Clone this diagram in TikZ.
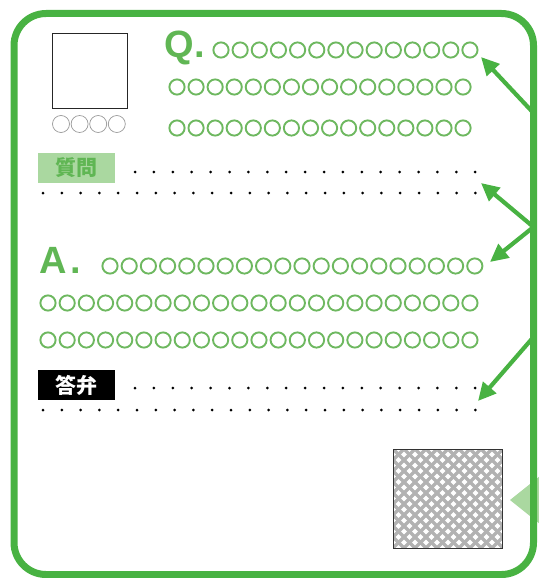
\documentclass[tikz,border=0pt]{standalone}
\usepackage{fontspec}
\usepackage{tikz}
\usetikzlibrary{arrows.meta, positioning}
\newfontfamily\cjkfont{Noto Sans CJK JP}
\newfontfamily\latfont{Liberation Sans}
\definecolor{framegreen}{RGB}{72, 178, 66}
\definecolor{ringgreen}{RGB}{110, 184, 96}
\definecolor{lettergreen}{RGB}{96, 182, 84}
\definecolor{palegreen}{RGB}{170, 216, 160}
\definecolor{hatchgray}{RGB}{178, 178, 178}

\begin{document}
\begin{tikzpicture}[x=1pt, y=-1pt,
			frame/.style={draw=framegreen, line width=7pt, rounded corners=32pt},
			ring/.style={draw=ringgreen, line width=1.9pt},
			smallring/.style={draw=gray!80, line width=0.7pt},
			dotmark/.style={fill=black},
			tag/.style={rectangle, minimum width=77pt, minimum height=30pt, inner sep=0pt, font=\cjkfont\bfseries\fontsize{21}{21}\selectfont},
			bigletter/.style={inner sep=0pt, anchor=base west, text=lettergreen, font=\latfont\bfseries\fontsize{38}{38}\selectfont},
			pointer/.style={-{Triangle[length=18pt, width=17pt]}, draw=framegreen, line width=4.2pt},
			hatchline/.style={draw=hatchgray, line width=3.4pt}
		]
		\useasboundingbox (0,0) rectangle (538,578);
		
		% Side tab and outer frame
		\fill[palegreen] (510,500) -- (540,476) -- (540,524) -- cycle;
		\draw[frame] (14,13.5) rectangle (533.5,574.5);
		
		% Photo box with caption rings
		\node[draw=black!85, line width=1pt, minimum width=75pt, minimum height=74pt, inner sep=0pt] (photo) at (89.5,71) {};
		\foreach \i in {0,...,3} \draw[smallring] (61+\i*18.6,124) circle (8.5);
		
		% Question block
		\node[bigletter] (qmark) at (164,58) {Q\kern1pt.};
		\foreach \i in {0,...,13} \draw[ring] (221+\i*19.15,50) circle (7.6);
		\foreach \i in {0,...,15} \draw[ring] (177+\i*19.07,87) circle (7.6);
		\foreach \i in {0,...,15} \draw[ring] (177+\i*19.07,128) circle (7.6);
		\node[tag, fill=palegreen, text=lettergreen] (asktag) at (76.5,167.5) {質問};
		\foreach \i in {0,...,18} \fill[dotmark] (135+\i*18.9,172) circle (1.5);
		\foreach \i in {0,...,23} \fill[dotmark] (43+\i*18.8,193) circle (1.5);
		
		% Answer block
		\node[bigletter] (amark) at (39,273) {A\kern4pt.};
		\foreach \i in {0,...,19} \draw[ring] (110+\i*19.2,266) circle (7.6);
		\foreach \i in {0,...,22} \draw[ring] (48+\i*19.18,303) circle (7.6);
		\foreach \i in {0,...,22} \draw[ring] (48+\i*19.18,340) circle (7.6);
		\node[tag, fill=black, text=white] (answertag) at (76.5,385) {答弁};
		\foreach \i in {0,...,18} \fill[dotmark] (135+\i*18.9,388) circle (1.5);
		\foreach \i in {0,...,23} \fill[dotmark] (43+\i*18.8,410) circle (1.5);
		
		% Hatched stamp
		\node[minimum width=108pt, minimum height=98pt, inner sep=0pt] (hatch) at (448,499) {};
		\begin{scope}
			\clip (hatch.north west) rectangle (hatch.south east);
			\foreach \k in {-10,...,10} {
				\draw[hatchline] ([xshift=\k*11pt]hatch.north west) -- ++(110,110);
				\draw[hatchline] ([xshift=\k*11pt]hatch.north east) -- ++(-110,110);
			}
		\end{scope}
		\draw[black!80, line width=1.3pt] (hatch.north west) rectangle (hatch.south east);
		
		% Pointers from the frame
		\coordinate (qfrom) at (533.5,113);
		\coordinate (midfrom) at (533.5,227);
		\coordinate (lowfrom) at (533.5,337);
		\coordinate (qto) at (481,57);
		\coordinate (askto) at (481,183);
		\coordinate (ato) at (490,262);
		\coordinate (answerto) at (478,401);
		\draw[pointer] (qfrom) -- (qto);
		\draw[pointer] (midfrom) -- (askto);
		\draw[pointer] (midfrom) -- (ato);
		\draw[pointer] (lowfrom) -- (answerto);
		\end{tikzpicture}
\end{document}
